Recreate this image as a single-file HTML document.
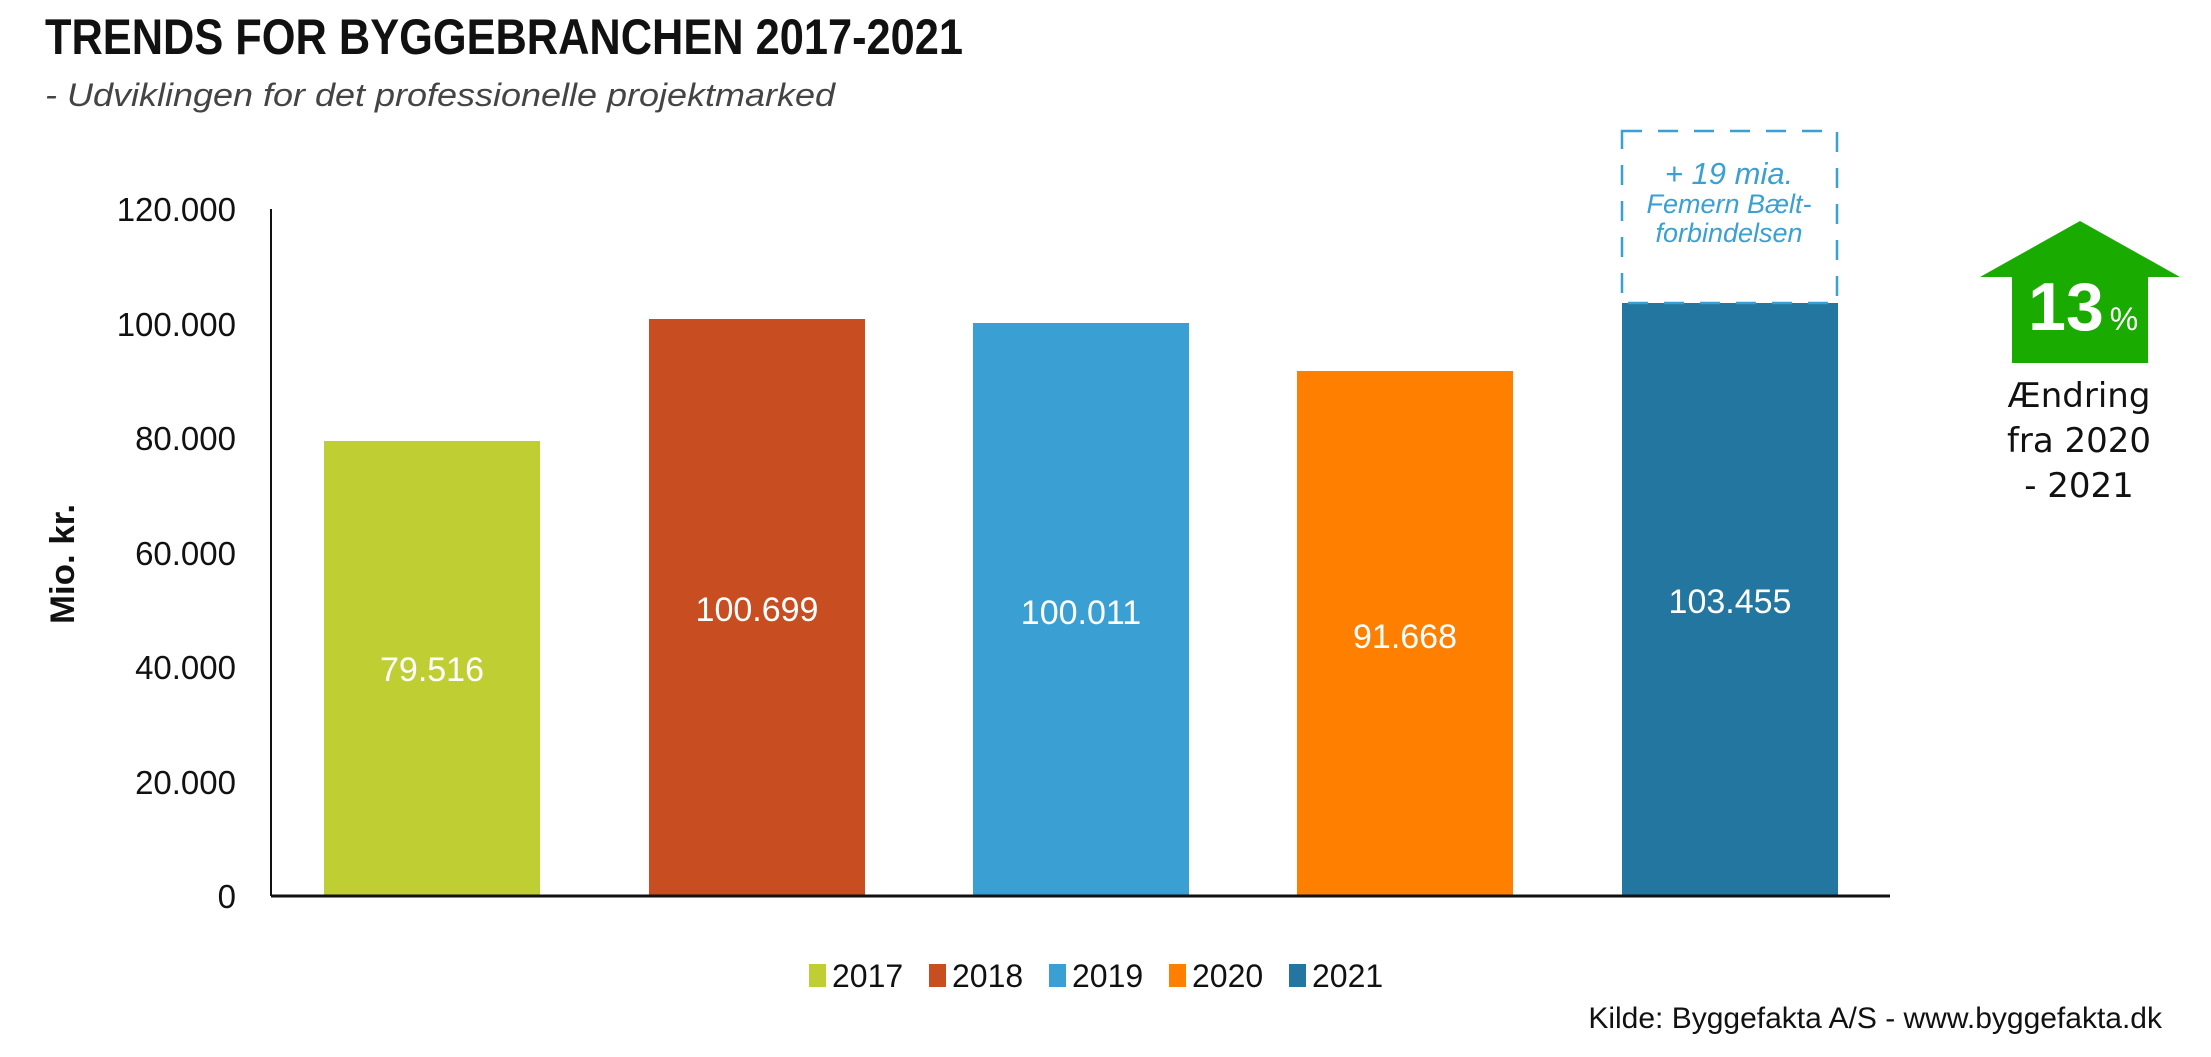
<!DOCTYPE html>
<html><head><meta charset="utf-8"><style>
html,body{margin:0;padding:0;background:#fff;}
svg{display:block;font-family:"Liberation Sans",sans-serif;}
</style></head><body>
<svg width="2211" height="1057" viewBox="0 0 2211 1057" xmlns="http://www.w3.org/2000/svg">
<text x="45" y="54" font-size="50" font-weight="bold" fill="#111" textLength="918" lengthAdjust="spacingAndGlyphs">TRENDS FOR BYGGEBRANCHEN 2017-2021</text>
<text x="45" y="106" font-size="32" font-style="italic" fill="#444" textLength="790" lengthAdjust="spacingAndGlyphs">- Udviklingen for det professionelle projektmarked</text>

<g font-size="33" fill="#111" text-anchor="end">
<text x="236" y="221">120.000</text>
<text x="236" y="336">100.000</text>
<text x="236" y="450">80.000</text>
<text x="236" y="565">60.000</text>
<text x="236" y="679">40.000</text>
<text x="236" y="794">20.000</text>
<text x="236" y="908">0</text>
</g>
<text transform="translate(74,564) rotate(-90)" font-size="34" font-weight="bold" text-anchor="middle" fill="#111" textLength="120" lengthAdjust="spacingAndGlyphs">Mio. kr.</text>

<rect x="324" y="441" width="216" height="455" fill="#bfcf33"/>
<rect x="649" y="319" width="216" height="577" fill="#c84e22"/>
<rect x="973" y="323" width="216" height="573" fill="#3aa0d4"/>
<rect x="1297" y="371" width="216" height="525" fill="#ff7f00"/>
<rect x="1622" y="303" width="216" height="593" fill="#23769f"/>

<g font-size="34" fill="#fff" text-anchor="middle">
<text x="432" y="681">79.516</text>
<text x="757" y="621">100.699</text>
<text x="1081" y="624">100.011</text>
<text x="1405" y="648">91.668</text>
<text x="1730" y="613">103.455</text>
</g>

<line x1="271" y1="209" x2="271" y2="896" stroke="#111" stroke-width="2"/>
<line x1="271" y1="896" x2="1890" y2="896" stroke="#111" stroke-width="3"/>

<rect x="1622" y="131" width="215" height="172" fill="none" stroke="#3aa0d4" stroke-width="2.5" stroke-dasharray="20,16"/>
<g fill="#3aa0d4" font-style="italic" text-anchor="middle">
<text x="1729" y="184" font-size="31">+ 19 mia.</text>
<text x="1729" y="213" font-size="27">Femern Bælt-</text>
<text x="1729" y="242" font-size="27">forbindelsen</text>
</g>

<polygon points="2080,221 2180,277 2148,277 2148,363 2012,363 2012,277 1980,277" fill="#1aab00"/>
<text x="2066" y="330" font-size="68" font-weight="bold" fill="#fff" text-anchor="middle">13</text>
<text x="2124" y="330" font-size="32" fill="#fff" text-anchor="middle">%</text>
<g font-size="34" fill="#111" text-anchor="middle" font-family="'DejaVu Sans',sans-serif">
<text x="2079" y="407">Ændring</text>
<text x="2079" y="452">fra 2020</text>
<text x="2079" y="497">- 2021</text>
</g>

<g font-size="32" fill="#111">
<rect x="809" y="964" width="17" height="23" fill="#bfcf33"/><text x="832" y="987">2017</text>
<rect x="929" y="964" width="17" height="23" fill="#c84e22"/><text x="952" y="987">2018</text>
<rect x="1049" y="964" width="17" height="23" fill="#3aa0d4"/><text x="1072" y="987">2019</text>
<rect x="1169" y="964" width="17" height="23" fill="#ff7f00"/><text x="1192" y="987">2020</text>
<rect x="1289" y="964" width="17" height="23" fill="#23769f"/><text x="1312" y="987">2021</text>
</g>
<text x="2162" y="1028" font-size="30" fill="#111" text-anchor="end">Kilde: Byggefakta A/S - www.byggefakta.dk</text>
</svg>
</body></html>
